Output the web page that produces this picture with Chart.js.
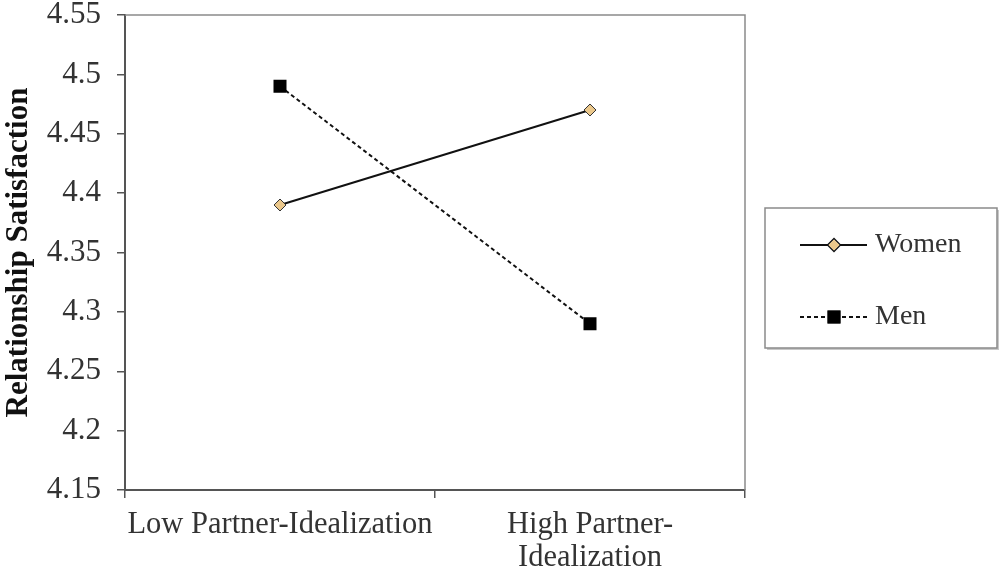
<!DOCTYPE html>
<html>
<head>
<meta charset="utf-8">
<script src="https://cdn.jsdelivr.net/npm/chart.js@4/dist/chart.umd.min.js"></script>
<style>
html,body{margin:0;padding:0;background:#fff;}
#wrap{width:1000px;height:574px;}
</style>
</head>
<body>
<div id="wrap"><canvas id="c" width="1000" height="574"></canvas></div>
<script>
const categories = ["Low Partner-Idealization", ["High Partner-", "Idealization"]];
const seriesNames = ["Women", "Men"];
const womenValues = [4.39, 4.47];
const menValues = [4.49, 4.29];
const yMin = 4.15, yMax = 4.55, yStep = 0.05;
const yTitle = "Relationship Satisfaction";

const SERIF = "'Liberation Serif', 'Times New Roman', serif";
const TEXT = "#333";

const framePlugin = {
  id: 'frame',
  beforeDatasetsDraw(chart) {
    const {ctx, chartArea: a} = chart;
    ctx.save();
    ctx.strokeStyle = '#8a8a8a';
    ctx.lineWidth = 1.5;
    ctx.beginPath();
    ctx.moveTo(a.left, a.top);
    ctx.lineTo(a.right, a.top);
    ctx.lineTo(a.right, a.bottom);
    ctx.stroke();
    ctx.restore();
  }
};

const legendPlugin = {
  id: 'boxLegend',
  afterDraw(chart) {
    const ctx = chart.ctx;
    const x0 = 765, y0 = 208, w = 232, h = 140;
    ctx.save();
    ctx.fillStyle = '#c8c8c8';
    ctx.fillRect(x0 + 2, y0 + 2, w, h);
    ctx.fillStyle = '#fff';
    ctx.fillRect(x0, y0, w, h);
    ctx.strokeStyle = '#8a8a8a';
    ctx.lineWidth = 1.5;
    ctx.strokeRect(x0, y0, w, h);
    const rows = [245, 317];
    chart.data.datasets.forEach((ds, i) => {
      const y = rows[i];
      ctx.strokeStyle = ds.borderColor;
      ctx.lineWidth = ds.borderWidth;
      ctx.setLineDash(ds.borderDash || []);
      ctx.beginPath();
      ctx.moveTo(800, y);
      ctx.lineTo(867, y);
      ctx.stroke();
      ctx.setLineDash([]);
      Chart.helpers.drawPoint(ctx, {
        pointStyle: ds.pointStyle,
        radius: ds.pointRadius,
        rotation: 0,
        borderWidth: ds.pointBorderWidth
      }, 834, y);
      ctx.fillStyle = ds.pointBackgroundColor;
      ctx.strokeStyle = ds.pointBorderColor;
      ctx.lineWidth = ds.pointBorderWidth;
      ctx.fill();
      if (ds.pointBorderWidth > 0) ctx.stroke();
      ctx.fillStyle = TEXT;
      ctx.font = "28px " + SERIF;
      ctx.textBaseline = 'middle';
      ctx.textAlign = 'left';
      ctx.fillText(ds.label, 875, y);
    });
    ctx.restore();
  }
};

new Chart(document.getElementById('c'), {
  type: 'line',
  data: {
    labels: categories,
    datasets: [
      {
        label: seriesNames[0],
        data: womenValues,
        borderColor: '#111',
        borderWidth: 2,
        pointStyle: 'rectRot',
        pointRadius: 6,
        pointHoverRadius: 6,
        pointBackgroundColor: '#ebc88c',
        pointBorderColor: '#333',
        pointBorderWidth: 1,
        tension: 0
      },
      {
        label: seriesNames[1],
        data: menValues,
        borderColor: '#111',
        borderWidth: 2,
        borderDash: [4, 3],
        pointStyle: 'rect',
        pointRadius: 9.2,
        pointHoverRadius: 9.2,
        pointBackgroundColor: '#000',
        pointBorderColor: '#000',
        pointBorderWidth: 0,
        tension: 0
      }
    ]
  },
  options: {
    responsive: false,
    animation: false,
    devicePixelRatio: 1,
    layout: { padding: { left: 0, top: 15, right: 255, bottom: 0 } },
    plugins: { legend: { display: false }, tooltip: { enabled: false } },
    scales: {
      x: {
        offset: true,
        grid: { offset: true, drawOnChartArea: false, drawTicks: true, tickLength: 8, color: '#555', lineWidth: 1.5 },
        border: { color: '#555', width: 2 },
        ticks: { color: TEXT, font: { family: SERIF, size: 30.5, lineHeight: 1.1 }, padding: 10, maxRotation: 0, autoSkip: false },
        afterFit(s) { s.height = 84; }
      },
      y: {
        min: yMin, max: yMax,
        grid: { drawOnChartArea: false, drawTicks: true, tickLength: 8, color: '#555', lineWidth: 1.5 },
        border: { color: '#555', width: 2 },
        ticks: {
          stepSize: yStep,
          color: TEXT,
          padding: 16,
          font: { family: SERIF, size: 31, lineHeight: 1 },
          callback: v => String(Number(v.toFixed(2)))
        },
        title: {
          display: true,
          text: yTitle,
          color: '#111',
          font: { family: SERIF, size: 31, weight: 'bold', lineHeight: 1.1 },
          padding: { top: 2, bottom: 0 }
        },
        afterFit(s) { s.width = 125; s.paddingTop = 0; s.paddingBottom = 0; }
      }
    }
  },
  plugins: [framePlugin, legendPlugin]
});
</script>
</body>
</html>
